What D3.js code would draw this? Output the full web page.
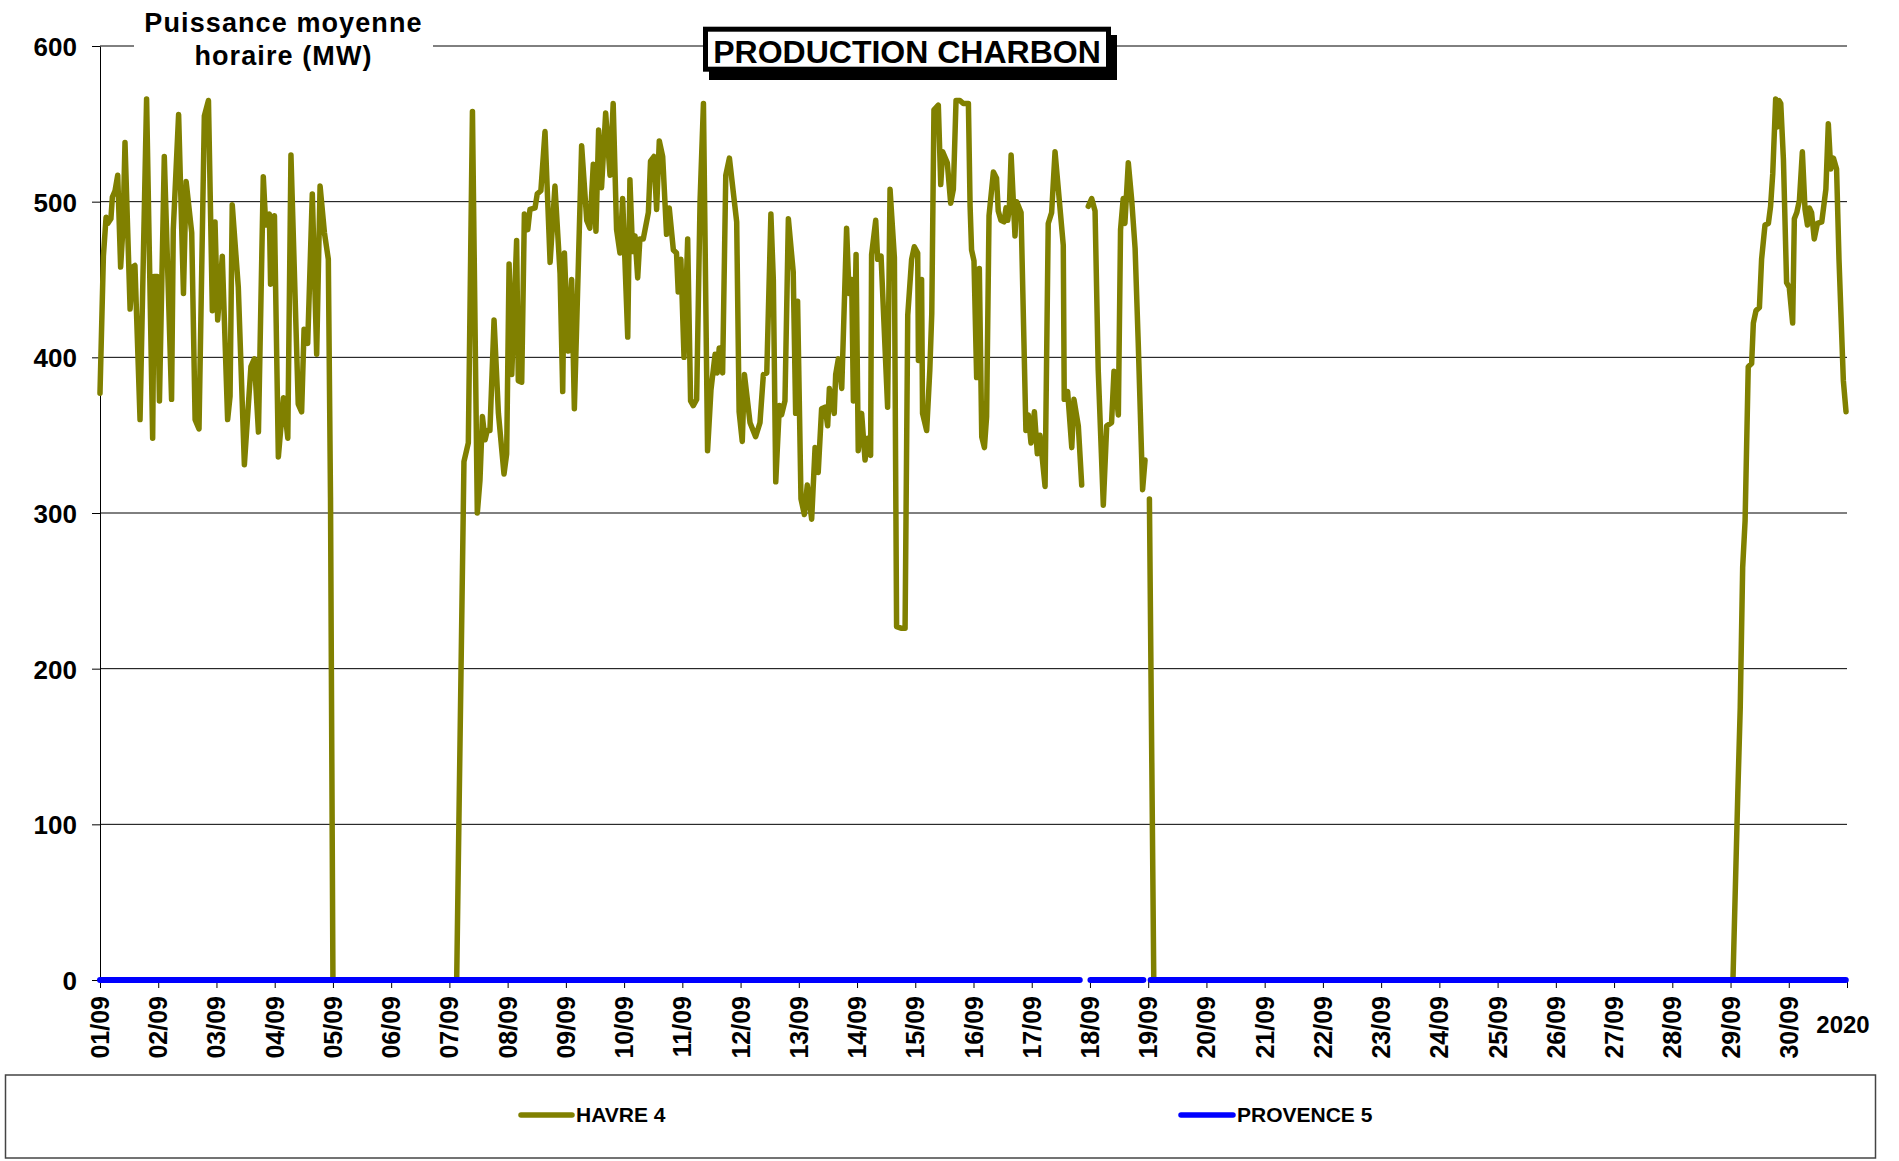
<!DOCTYPE html>
<html>
<head>
<meta charset="utf-8">
<script src="https://cdn.jsdelivr.net/npm/d3@7"></script>
<style>
  body { margin: 0; background: #fff; }
  text { font-family: "Liberation Sans", Arial, sans-serif; font-weight: bold; fill: #000; }
</style>
</head>
<body>
<svg id="chart" width="1899" height="1161"></svg>
<script>
// ---------- DATA ----------
// hours elapsed since 01/09/2020 00:00 (UTC), hourly mean power in MW (null = missing)
const havreHour = [
  0,1.4,2.5,3.2,4.5,5.1,6.2,7.3,8.5,9.5,10.3,12.4,13.5,14.4,16.5,19.2,21.7,22.3,23.6,24.5,
  26.5,29.5,30.2,32.4,34.4,35.5,37.8,39.2,40.8,43.0,44.7,46.3,47.4,48.5,50.4,52.6,53.6,54.5,57.0,59.5,
  62.2,63.6,65.3,67.3,68.3,69.8,70.3,71.9,73.5,75.6,77.4,78.7,81.7,83.1,84.1,85.6,87.5,89.3,90.7,92.5,
  94.1,95,96,147,150,151.8,153.5,155.5,156.6,157.6,158.7,159.6,160.7,162.4,164.2,166.5,167.6,168.6,169.7,171.7,
  172.4,173.8,174.9,176.3,177.2,179.3,180.2,181.7,183.4,185.5,187.5,189.6,190.7,191.4,193.0,194.4,195.5,198.5,200.6,201.9,
  203.3,204.4,205.5,206.7,208.4,210.2,211.5,212.9,214.3,215.4,217.5,218.4,219.5,220.5,221.6,222.5,223.9,226.0,226.9,228.3,
  229.4,230.5,231.9,233.5,234.6,236.3,237.6,238.3,239.4,240.7,242.2,243.4,244.5,245.9,247.3,248.7,250.4,251.8,253.5,254.4,
  255.2,256.6,257.9,259.4,262.4,263.4,264.7,265.6,267.9,270.2,272.0,273.4,274.8,276.5,277.5,278.5,280.0,280.9,282.3,283.7,
  285.7,286.7,287.5,288.9,290.3,291.5,293.3,294.7,296.0,297.4,298.8,299.9,300.6,302.6,303.2,304.3,305.7,307.7,308.7,309.8,
  310.5,311.6,312.5,313.9,315.3,316.4,317.6,318.0,319.7,320.5,321.9,324.6,325.6,327.4,328.3,330.1,331.8,332.9,334.5,335.6,
  337.0,337.3,338.6,339.0,340.7,342.0,342.8,343.7,345.5,346.5,347.3,349.2,350.6,351.7,352.8,354.4,355.8,357.9,358.6,359.2,
  360.2,361.3,362.4,363.4,364.5,365.4,366.4,368.2,369.5,370.2,371.3,372.6,373.4,374.1,374.8,375.5,377.1,377.8,379.6,381.6,
  382.6,383.7,385.1,386.3,387.4,389.5,390.8,392.2,393.6,397.0,397.4,398.8,400.5,401.4,403.2,404.6,406,407.3,408.7,410.1,
  411.4,413.5,414.9,416.9,417.9,419.7,420.6,421.7,422.4,423.8,425.2,426.6,427.9,429.7,430.7,431.5,432.5,434.3,673,675,
  676,677,678,679.3,680.7,681.4,682.5,683.9,684.8,686.2,687.6,688.5,689.4,690.6,691.3,692.0,692.7,693.8,695.1,696.2,
  697.6,698.3,699.3,700.4,701.6,702.7,703.7,704.5,705.4,706.5,707.8,709.6,711.3,712.3,713.3,714.4,715.7,716.7,718.5,719.6
];
const havreMW = [
  377,465,490,486,489,503,507,517,458,484,538,431,458,459,360,566,348,452,452,372,
  529,373,482,556,441,513,480,360,354,555,565,430,487,424,465,360,375,498,445,331,
  394,399,352,516,485,492,447,491,336,374,348,530,370,365,418,409,505,402,510,480,
  463,310,0,0,333,345,558,300,321,362,347,353,353,424,364,325,338,460,389,475,
  385,384,492,482,495,496,505,507,545,461,510,454,378,467,404,450,367,536,488,483,
  524,481,546,509,557,517,563,482,467,502,413,514,468,478,451,476,476,493,526,529,
  495,539,529,479,496,469,467,442,463,400,476,372,369,373,500,563,340,379,402,390,
  406,390,517,528,487,365,346,389,358,349,358,389,390,492,450,320,369,363,372,489,
  455,364,436,309,299,318,296,342,326,367,368,356,380,364,389,399,380,483,441,450,
  372,466,340,364,334,348,337,466,488,463,465,368,508,464,227,226,226,427,463,471,
  467,398,450,364,353,392,428,559,562,511,532,525,499,508,565,565,563,563,497,469,
  462,387,457,349,342,362,491,519,515,494,488,487,496,488,497,530,478,500,493,353,
  363,345,365,338,350,317,486,493,532,472,373,378,342,373,356,318,null,497,502,494,
  392,305,356,358,391,363,482,502,486,525,501,470,409,315,334,null,309,0,0,120,
  175,265,295,394,396,422,430,432,463,485,486,497,518,566,548,565,563,527,448,445,
  422,489,493,501,532,495,485,496,493,476,486,487,508,550,521,528,521,463,385,365
];
const provenceHour = [0, 403.8, 406, 408.2, 430, 431.5, 433, 719.5];
const provenceMW   = [0, 0, null, 0, 0, null, 0, 0];

const yTicks = [0, 100, 200, 300, 400, 500, 600];
const startDate = Date.UTC(2020, 8, 1);
const endDate = Date.UTC(2020, 9, 1);
const dayTicks = d3.utcDay.range(new Date(startDate), new Date(endDate));  // 01/09 .. 30/09
const yearLabel = "2020";
const seriesNames = ["HAVRE 4", "PROVENCE 5"];
const seriesColors = ["#808000", "#0000FF"];
const chartTitle = "PRODUCTION CHARBON";
const yTitle = ["Puissance moyenne", "horaire (MW)"];

// ---------- CHART ----------
const svg = d3.select("#chart");
const L = 100, R = 1847, T = 46, B = 980;
const x = d3.scaleUtc().domain([new Date(startDate), new Date(endDate)]).range([L, R]);
const y = d3.scaleLinear().domain([0, 600]).range([B, T]);
const toDate = h => new Date(startDate + h * 3600e3);

// gridlines
svg.append("g").selectAll("line").data(yTicks.filter(d => d > 0)).join("line")
  .attr("x1", L).attr("x2", R).attr("y1", d => y(d)).attr("y2", d => y(d))
  .attr("stroke", "#000").attr("stroke-width", 1);

// y axis
const gy = svg.append("g").attr("transform", `translate(${L},0)`)
  .call(d3.axisLeft(y).tickValues(yTicks).tickSizeInner(8).tickSizeOuter(0).tickPadding(15));
gy.select(".domain").attr("stroke", "#000").attr("stroke-width", 1);
gy.selectAll(".tick line").attr("stroke", "#000");
gy.selectAll(".tick text").attr("font-size", 26).attr("font-family", null)
  .attr("dy", "0.36em");

// x axis ticks (no domain line)
const gx = svg.append("g").attr("transform", `translate(0,${B})`)
  .call(d3.axisBottom(x).tickValues([...dayTicks, new Date(endDate)]).tickSize(8).tickFormat(""));
gx.select(".domain").remove();
gx.selectAll(".tick line").attr("stroke", "#000");

const fmt = d3.utcFormat("%d/%m");
svg.append("g").selectAll("text").data(dayTicks).join("text")
  .attr("transform", d => `translate(${x(d)},${B + 16}) rotate(-90)`)
  .attr("text-anchor", "end").attr("dy", "0.36em").attr("font-size", 25)
  .text(d => fmt(d));
svg.append("text").attr("x", x(new Date(endDate)) - 4).attr("y", 1033)
  .attr("text-anchor", "middle").attr("font-size", 24).text(yearLabel);

// series
const line = d3.line().defined(d => d.v !== null).x(d => x(toDate(d.h))).y(d => y(d.v));
const havre = havreHour.map((h, i) => ({h, v: havreMW[i]}));
const provence = provenceHour.map((h, i) => ({h, v: provenceMW[i]}));
svg.append("path").datum(havre).attr("d", line).attr("fill", "none")
  .attr("stroke", seriesColors[0]).attr("stroke-width", 5.5)
  .attr("stroke-linejoin", "round").attr("stroke-linecap", "round");
svg.append("path").datum(provence).attr("d", line).attr("fill", "none")
  .attr("stroke", seriesColors[1]).attr("stroke-width", 6)
  .attr("stroke-linejoin", "round").attr("stroke-linecap", "round");

// y title with white background
svg.append("rect").attr("x", 134).attr("y", 2).attr("width", 299).attr("height", 72).attr("fill", "#fff");
svg.append("text").attr("x", 283.5).attr("y", 31.5).attr("text-anchor", "middle")
  .attr("font-size", 27).attr("letter-spacing", 1.1).text(yTitle[0]);
svg.append("text").attr("x", 283.5).attr("y", 65).attr("text-anchor", "middle")
  .attr("font-size", 27).attr("letter-spacing", 1.1).text(yTitle[1]);

// title box with shadow
svg.append("rect").attr("x", 709).attr("y", 35).attr("width", 408).attr("height", 45).attr("fill", "#000");
svg.append("rect").attr("x", 705.5).attr("y", 29.2).attr("width", 403).attr("height", 40)
  .attr("fill", "#fff").attr("stroke", "#000").attr("stroke-width", 5);
svg.append("text").attr("x", 907).attr("y", 63).attr("text-anchor", "middle")
  .attr("font-size", 32).text(chartTitle);

// legend
svg.append("rect").attr("x", 5.5).attr("y", 1075).attr("width", 1870).attr("height", 83)
  .attr("fill", "#fff").attr("stroke", "#444").attr("stroke-width", 1.5);
const legX = [[521, 572], [1181, 1233]];
seriesNames.forEach((name, i) => {
  svg.append("line").attr("x1", legX[i][0]).attr("x2", legX[i][1]).attr("y1", 1115).attr("y2", 1115)
    .attr("stroke", seriesColors[i]).attr("stroke-width", 5.5).attr("stroke-linecap", "round");
  svg.append("text").attr("x", legX[i][1] + 4).attr("y", 1121.5).attr("font-size", 21).text(name);
});
</script>
</body>
</html>
